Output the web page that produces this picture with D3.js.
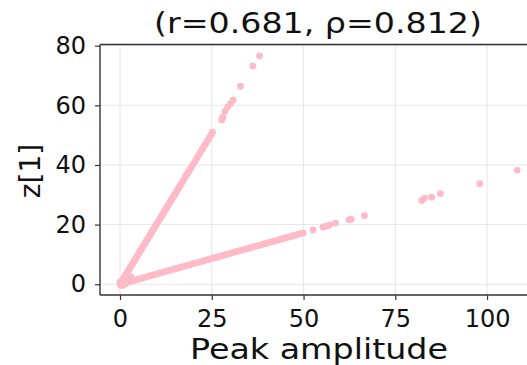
<!DOCTYPE html>
<html>
<head>
<meta charset="utf-8">
<script src="https://cdn.jsdelivr.net/npm/d3@7"></script>
<style>
  body { margin: 0; background: #fff; }
  svg { display: block; font-family: "DejaVu Sans", sans-serif; }
</style>
</head>
<body>
<div id="chart"></div>
<script>
var title = "(r=0.681, \u03c1=0.812)";
var xLabel = "Peak amplitude";
var yLabel = "z[1]";
var xTicks = [0, 25, 50, 75, 100];
var yTicks = [0, 20, 40, 60, 80];

// steep branch
var steepX = [0.1, 0.3, 0.5, 0.8, 1.0, 1.3, 1.5, 1.8, 2.1, 2.4, 2.7, 3.0, 3.3, 3.6, 3.9, 4.2, 4.5, 4.8, 5.1, 5.4,
  5.7, 6.0, 6.3, 6.6, 6.9, 7.2, 7.5, 7.8, 8.1, 8.4, 8.7, 9.0, 9.3, 9.6, 9.9, 10.2, 10.5, 10.8, 11.1, 11.4,
  11.7, 12.0, 12.3, 12.6, 12.9, 13.2, 13.5, 13.8, 14.1, 14.4, 14.7, 15.0, 15.3, 15.6, 15.9, 16.2, 16.6, 17.0, 17.4, 17.8,
  18.2, 18.6, 19.0, 19.4, 19.9, 20.4, 20.9, 21.4, 21.9, 22.4, 22.9, 23.4, 23.9, 24.4, 24.8, 25.2,
  27.7, 28.0, 28.6, 29.3, 30.1, 30.8, 32.8, 36.2, 38.0];
var steepY = [0.2, 0.5, 1.1, 1.5, 2.1, 2.5, 3.1, 3.6, 4.2, 4.8, 5.5, 6.0, 6.8, 7.2, 7.9, 8.5, 9.1, 9.7, 10.3, 11.0,
  11.5, 12.2, 12.7, 13.4, 13.9, 14.6, 15.1, 15.8, 16.3, 17.0, 17.6, 18.2, 18.8, 19.4, 20.0, 20.6, 21.2, 21.9, 22.4, 23.0,
  23.7, 24.2, 24.9, 25.4, 26.1, 26.6, 27.3, 27.9, 28.5, 29.1, 29.7, 30.3, 30.9, 31.6, 32.1, 32.8, 33.5, 34.3, 35.2, 36.0,
  36.8, 37.6, 38.4, 39.2, 40.2, 41.2, 42.2, 43.3, 44.2, 45.3, 46.3, 47.3, 48.3, 49.3, 50.1, 51.0,
  55.1, 56.0, 58.0, 59.4, 60.6, 61.7, 66.4, 73.2, 76.6];

// shallow branch
var flatX = [0.3, 1.0, 1.7, 2.4, 3.1, 3.8, 4.5, 5.2, 5.9, 6.6, 7.3, 8.0, 8.7, 9.4, 10.1, 10.8, 11.5, 12.2, 12.9, 13.6,
  14.3, 15.0, 15.7, 16.4, 17.1, 17.8, 18.5, 19.2, 19.9, 20.6, 21.3, 22.0, 22.7, 23.4, 24.1, 24.8, 25.5, 26.2, 26.9, 27.6,
  28.3, 29.0, 29.7, 30.4, 31.1, 31.8, 32.5, 33.2, 33.9, 34.6, 35.3, 36.0, 36.7, 37.4, 38.1, 38.8, 39.5, 40.2, 40.9, 41.6,
  42.3, 43.0, 43.7, 44.4, 45.1, 45.8, 46.5, 47.2, 47.9, 48.6, 49.3, 49.9,
  52.6, 55.3, 56.3, 57.1, 58.7, 62.4, 63.0, 66.6, 82.2, 83.0, 84.9, 87.3, 98.0, 108.2];
var flatY = [0.0, 0.3, 0.6, 0.8, 1.1, 1.3, 1.5, 1.8, 2.0, 2.3, 2.5, 2.8, 3.0, 3.2, 3.5, 3.7, 4.0, 4.2, 4.5, 4.7,
  4.9, 5.2, 5.4, 5.7, 5.9, 6.1, 6.4, 6.6, 6.9, 7.1, 7.3, 7.6, 7.8, 8.1, 8.3, 8.6, 8.8, 9.0, 9.3, 9.5,
  9.8, 10.0, 10.2, 10.5, 10.7, 11.0, 11.2, 11.5, 11.7, 11.9, 12.2, 12.4, 12.7, 12.9, 13.1, 13.4, 13.6, 13.9, 14.1, 14.3,
  14.6, 14.8, 15.1, 15.3, 15.6, 15.8, 16.0, 16.3, 16.5, 16.8, 17.0, 17.2,
  18.2, 19.2, 19.5, 19.9, 20.5, 21.6, 21.8, 23.0, 28.1, 28.9, 29.2, 30.4, 33.7, 38.2];

// points filling the vertex of the V near the origin
var nearX = [0.0, 0.2, 0.5, 1.0, 1.5, 2.0, 1.0, 2.5, 0.3, 0.8, 1.5, 0.0, 0.2, 3.0, 2.0];
var nearY = [0.0, -0.3, 0.5, 1.0, 1.5, 1.5, 0.5, 1.5, -0.4, -0.3, 0.2, 0.6, 1.0, 2.5, 2.6];

var width = 527, height = 365;
var pLeft = 100, pRight = 537, pTop = 44.5, pBottom = 295;

var svg = d3.select("#chart").append("svg")
  .attr("width", width)
  .attr("height", height);

var x = d3.scaleLinear().domain([-5.45, 113.6]).range([pLeft, pRight]);
var y = d3.scaleLinear().domain([-3.6, 80.4]).range([pBottom, pTop]);

svg.append("clipPath").attr("id", "plot")
  .append("rect").attr("x", pLeft).attr("y", pTop)
  .attr("width", pRight - pLeft).attr("height", pBottom - pTop);

// grid
var grid = svg.append("g");
grid.selectAll(".gx").data(xTicks).enter().append("line")
  .attr("x1", function(d) { return x(d); }).attr("x2", function(d) { return x(d); })
  .attr("y1", pTop).attr("y2", pBottom)
  .attr("stroke", "#e3e3e3").attr("stroke-width", 0.9);
grid.selectAll(".gy").data(yTicks).enter().append("line")
  .attr("y1", function(d) { return y(d); }).attr("y2", function(d) { return y(d); })
  .attr("x1", pLeft).attr("x2", pRight)
  .attr("stroke", "#e3e3e3").attr("stroke-width", 0.9);

var pts = [];
steepX.forEach(function(v, i) { pts.push([v, steepY[i]]); });
flatX.forEach(function(v, i) { pts.push([v, flatY[i]]); });
nearX.forEach(function(v, i) { pts.push([v, nearY[i]]); });

svg.append("g").attr("clip-path", "url(#plot)")
  .selectAll("circle").data(pts).enter().append("circle")
  .attr("cx", function(d) { return x(d[0]); })
  .attr("cy", function(d) { return y(d[1]); })
  .attr("r", 3.4)
  .attr("fill", "#ffbac7");

// axes
var xAxis = svg.append("g").attr("transform", "translate(0," + pBottom + ")")
  .call(d3.axisBottom(x).tickValues(xTicks).tickSize(5));
var yAxis = svg.append("g").attr("transform", "translate(" + pLeft + ",0)")
  .call(d3.axisLeft(y).tickValues(yTicks).tickSize(5).tickPadding(9));
[xAxis, yAxis].forEach(function(a) {
  a.select(".domain").remove();
  a.selectAll("line").attr("stroke", "#333").attr("stroke-width", 1.2);
  a.selectAll("text").attr("font-family", "DejaVu Sans").attr("font-size", 24).attr("fill", "#111");
});
xAxis.selectAll("text").attr("y", 31.7).attr("dy", 0);

// spines
svg.append("line").attr("x1", pLeft).attr("x2", pLeft).attr("y1", pTop).attr("y2", pBottom)
  .attr("stroke", "#333").attr("stroke-width", 1.4);
svg.append("line").attr("x1", pLeft).attr("x2", pRight).attr("y1", pBottom).attr("y2", pBottom)
  .attr("stroke", "#333").attr("stroke-width", 1.4);
svg.append("line").attr("x1", pLeft).attr("x2", pRight).attr("y1", pTop).attr("y2", pTop)
  .attr("stroke", "#333").attr("stroke-width", 1.4);

svg.append("text").attr("x", 318).attr("y", 33.3)
  .attr("text-anchor", "middle").attr("font-size", 29).attr("fill", "#111")
  .attr("textLength", 328).attr("lengthAdjust", "spacingAndGlyphs")
  .text(title);

svg.append("text").attr("x", 319).attr("y", 359.3)
  .attr("text-anchor", "middle").attr("font-size", 28).attr("fill", "#111")
  .attr("textLength", 258).attr("lengthAdjust", "spacingAndGlyphs")
  .text(xLabel);

svg.append("text").attr("transform", "translate(39.5,171) rotate(-90)")
  .attr("text-anchor", "middle").attr("font-size", 28).attr("fill", "#111")
  .text(yLabel);
</script>
</body>
</html>
